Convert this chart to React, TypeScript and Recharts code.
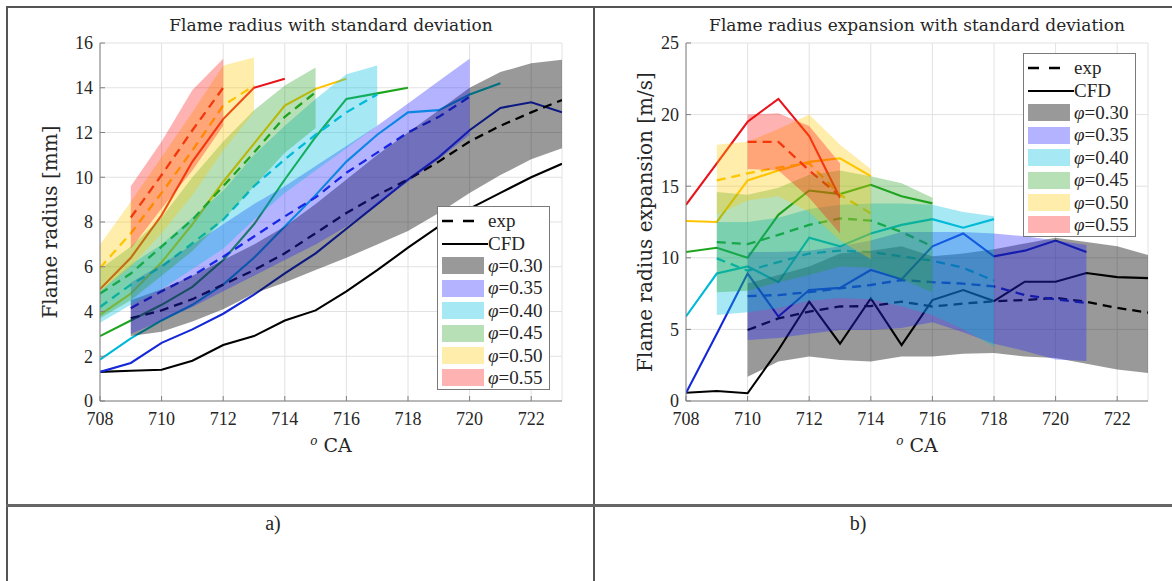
import React from "react";
import { ComposedChart, Line, Area, XAxis, YAxis, CartesianGrid } from "recharts";

// crank angle samples [deg CA]
const CA = [708, 709, 710, 711, 712, 713, 714, 715, 716, 717, 718, 719, 720, 721, 722, 723];
const CA_TICKS = [708, 710, 712, 714, 716, 718, 720, 722];
const RADIUS_TICKS = [0, 2, 4, 6, 8, 10, 12, 14, 16];
const SPEED_TICKS = [0, 5, 10, 15, 20, 25];

const PHI_LABELS = ["0.30", "0.35", "0.40", "0.45", "0.50", "0.55"];
const LINE_COLORS = ["#000000", "#1428d8", "#00b9d6", "#1ea51e", "#ffc400", "#e8141c"];
const BAND_COLORS = ["#000000", "#2424ff", "#00bedc", "#1e9e1e", "#ffc800", "#ff0000"];
const BAND_ALPHA = [0.4, 0.35, 0.35, 0.32, 0.33, 0.3];

// (a) flame radius [mm]
const radiusCfd030 = [1.3, 1.35, 1.4, 1.8, 2.5, 2.9, 3.6, 4.05, 4.9, 5.85, 6.85, 7.8, 8.6, 9.3, 10.0, 10.6];
const radiusExp030 = [null, 3.7, 4.05, 4.55, 5.2, 5.85, 6.6, 7.5, 8.4, 9.2, 9.9, 10.7, 11.6, 12.3, 12.9, 13.45];
const radiusLo030 = [null, 2.9, 3.1, 3.55, 4.1, 4.8, 5.3, 5.85, 6.4, 7.0, 7.6, 8.4, 9.3, 10.1, 10.8, 11.3];
const radiusHi030 = [null, 4.5, 5.0, 5.6, 6.3, 7.0, 7.8, 8.8, 9.9, 11.0, 12.0, 13.0, 14.0, 14.7, 15.1, 15.25];

const radiusCfd035 = [1.3, 1.7, 2.6, 3.2, 3.9, 4.75, 5.7, 6.6, 7.7, 8.8, 9.9, 10.9, 12.1, 13.1, 13.35, 12.9];
const radiusExp035 = [null, 4.15, 4.9, 5.6, 6.45, 7.35, 8.25, 9.1, 10.2, 11.1, 12.0, 12.7, 13.6];
const radiusLo035 = [null, 3.0, 3.6, 4.2, 4.9, 5.6, 6.3, 7.0, 7.8, 8.8, 9.8, 10.8, 11.9];
const radiusHi035 = [null, 5.3, 6.1, 7.0, 7.9, 8.8, 9.6, 10.5, 11.4, 12.3, 13.3, 14.3, 15.3];

const radiusCfd040 = [1.85, 2.8, 3.6, 4.3, 5.2, 6.4, 7.8, 9.2, 10.7, 11.9, 12.9, 13.0, 13.7, 14.2];
const radiusExp040 = [4.2, 5.2, 6.0, 7.05, 8.1, 9.6, 10.8, 11.9, 12.9, 13.7];
const radiusLo040 = [3.5, 4.3, 5.0, 5.9, 6.8, 8.1, 9.3, 10.3, 11.3, 12.3];
const radiusHi040 = [4.9, 6.1, 7.0, 8.2, 9.4, 11.0, 12.3, 13.5, 14.6, 15.0];

const radiusCfd045 = [2.9, 3.6, 4.3, 5.1, 6.3, 7.9, 9.9, 11.8, 13.5, 13.75, 14.0];
const radiusExp045 = [4.8, 5.7, 6.9, 8.1, 9.6, 11.1, 12.7, 13.8];
const radiusLo045 = [3.7, 4.5, 5.6, 6.7, 8.1, 9.6, 11.1, 12.2];
const radiusHi045 = [5.9, 6.9, 8.2, 10.0, 11.6, 13.0, 14.1, 14.9];

const radiusCfd050 = [3.85, 4.8, 6.2, 7.9, 9.8, 11.5, 13.2, 13.95, 14.4];
const radiusExp050 = [5.95, 7.5, 9.3, 11.2, 13.2, 14.1];
const radiusLo050 = [4.9, 6.0, 7.5, 9.2, 11.2, 12.9];
const radiusHi050 = [7.0, 8.9, 10.9, 12.9, 15.0, 15.35];

const radiusCfd055 = [5.0, 6.4, 8.3, 10.7, 12.6, 14.0, 14.4];
const radiusExp055 = [null, 8.2, 10.1, 12.1, 14.0];
const radiusLo055 = [null, 6.8, 8.6, 10.3, 12.3];
const radiusHi055 = [null, 9.6, 11.6, 13.9, 15.3];

// (b) flame radius expansion [m/s]
const speedCfd030 = [0.58, 0.7, 0.54, 3.56, 6.94, 4.0, 7.17, 3.9, 7.05, 7.75, 6.98, 8.33, 8.33, 8.94, 8.65, 8.58];
const speedExp030 = [null, null, 4.96, 5.77, 6.24, 6.6, 6.63, 6.94, 6.6, 6.8, 6.97, 7.05, 7.2, 6.93, 6.5, 6.17];
const speedLo030 = [null, null, 1.7, 2.75, 3.1, 2.86, 2.75, 3.1, 3.1, 3.3, 3.35, 3.1, 3.0, 2.6, 2.2, 1.95];
const speedHi030 = [null, null, 8.2, 8.8, 9.4, 10.3, 10.5, 10.8, 10.1, 10.3, 10.6, 11.0, 11.4, 11.1, 10.8, 10.2];

const speedCfd035 = [0.55, 4.7, 8.9, 5.9, 7.75, 7.9, 9.15, 8.5, 10.8, 11.7, 10.1, 10.5, 11.2, 10.4];
const speedExp035 = [null, null, 7.33, 7.4, 7.6, 7.87, 8.1, 8.45, 8.3, 8.2, 8.0, 7.4, 7.1, 6.85];
const speedLo035 = [null, null, 4.26, 4.4, 4.7, 4.95, 4.95, 5.1, 5.5, 4.8, 4.0, 3.5, 2.9, 2.8];
const speedHi035 = [null, null, 10.4, 10.4, 10.5, 10.8, 11.2, 11.8, 11.8, 11.8, 11.7, 11.5, 11.2, 10.9];

const speedCfd040 = [5.9, 8.9, 9.4, 8.3, 11.4, 10.8, 11.7, 12.3, 12.7, 12.1, 12.7];
const speedExp040 = [null, 9.96, 9.1, 9.7, 10.3, 10.5, 10.4, 10.1, 9.8, 9.3, 8.4];
const speedLo040 = [null, 6.0, 6.2, 6.5, 7.0, 7.2, 7.1, 6.6, 6.0, 5.0, 3.8];
const speedHi040 = [null, 12.5, 12.5, 12.8, 13.4, 13.7, 13.8, 13.8, 13.7, 13.2, 12.9];

const speedCfd045 = [10.4, 10.7, 10.0, 13.0, 14.7, 14.45, 15.1, 14.3, 13.8];
const speedExp045 = [null, 11.1, 10.95, 11.6, 12.3, 12.75, 12.6, 11.8, 10.8];
const speedLo045 = [null, 7.6, 7.7, 8.3, 8.8, 9.4, 9.3, 8.5, 7.6];
const speedHi045 = [null, 14.6, 14.4, 14.9, 15.8, 16.1, 15.7, 15.2, 14.2];

const speedCfd050 = [12.57, 12.5, 15.4, 16.1, 16.7, 16.95, 15.7];
const speedExp050 = [null, 15.4, 15.9, 16.3, 16.6, 14.4, 13.1];
const speedLo050 = [null, 13.0, 14.0, 14.3, 13.2, 11.2, 9.9];
const speedHi050 = [null, 17.9, 18.1, 19.0, 20.0, 17.9, 16.2];

const speedCfd055 = [13.7, 16.6, 19.5, 21.1, 18.5, 14.2];
const speedExp055 = [null, null, 18.1, 18.1, 16.1, 14.3];
const speedLo055 = [null, null, 16.2, 16.1, 14.2, 11.7];
const speedHi055 = [null, null, 20.0, 20.1, 19.2, 16.6];

type Vals = (number | null)[];
type Series = { cfd: Vals; exp: Vals; lo: Vals; hi: Vals };

const radiusSeries: Series[] = [
  { cfd: radiusCfd030, exp: radiusExp030, lo: radiusLo030, hi: radiusHi030 },
  { cfd: radiusCfd035, exp: radiusExp035, lo: radiusLo035, hi: radiusHi035 },
  { cfd: radiusCfd040, exp: radiusExp040, lo: radiusLo040, hi: radiusHi040 },
  { cfd: radiusCfd045, exp: radiusExp045, lo: radiusLo045, hi: radiusHi045 },
  { cfd: radiusCfd050, exp: radiusExp050, lo: radiusLo050, hi: radiusHi050 },
  { cfd: radiusCfd055, exp: radiusExp055, lo: radiusLo055, hi: radiusHi055 },
];

const speedSeries: Series[] = [
  { cfd: speedCfd030, exp: speedExp030, lo: speedLo030, hi: speedHi030 },
  { cfd: speedCfd035, exp: speedExp035, lo: speedLo035, hi: speedHi035 },
  { cfd: speedCfd040, exp: speedExp040, lo: speedLo040, hi: speedHi040 },
  { cfd: speedCfd045, exp: speedExp045, lo: speedLo045, hi: speedHi045 },
  { cfd: speedCfd050, exp: speedExp050, lo: speedLo050, hi: speedHi050 },
  { cfd: speedCfd055, exp: speedExp055, lo: speedLo055, hi: speedHi055 },
];

function buildRows(series: Series[]) {
  return CA.map((ca, i) => {
    const row: Record<string, unknown> = { ca };
    series.forEach((s, k) => {
      row[`cfd${k}`] = s.cfd[i] ?? null;
      row[`exp${k}`] = s.exp[i] ?? null;
      const lo = s.lo[i];
      const hi = s.hi[i];
      row[`band${k}`] = lo != null && hi != null ? [lo, hi] : null;
    });
    return row;
  });
}

const FONT = "'Liberation Serif', 'DejaVu Serif', serif";
const LABEL_FONT = "'DejaVu Serif', 'Liberation Serif', serif";
const INK = "#262626";
const BOX = "#808080";
const tickStyle = { fill: INK, fontSize: 18, fontFamily: FONT };

function Panel({ series, yTicks, yMax }: { series: Series[]; yTicks: number[]; yMax: number }) {
  const rows = buildRows(series);
  return (
    <ComposedChart width={600} height={470} data={rows} margin={{ top: 43, right: 38, bottom: 29, left: 40 }}>
      <CartesianGrid stroke="#e2e2e2" />
      <XAxis
        dataKey="ca"
        type="number"
        domain={[708, 723]}
        ticks={CA_TICKS}
        allowDataOverflow
        tick={tickStyle}
        tickLine={{ stroke: BOX }}
        tickSize={-5}
        tickMargin={16}
        axisLine={{ stroke: BOX }}
        height={40}
      />
      <XAxis
        xAxisId="top"
        orientation="top"
        dataKey="ca"
        type="number"
        domain={[708, 723]}
        ticks={CA_TICKS}
        tick={false}
        tickLine={false}
        axisLine={{ stroke: BOX }}
        height={0}
      />
      <YAxis
        type="number"
        domain={[0, yMax]}
        ticks={yTicks}
        allowDataOverflow
        tick={tickStyle}
        tickLine={{ stroke: BOX }}
        tickSize={-5}
        tickMargin={12}
        axisLine={{ stroke: BOX }}
        width={60}
      />
      <YAxis
        yAxisId="right"
        orientation="right"
        type="number"
        domain={[0, yMax]}
        ticks={yTicks}
        tick={false}
        tickLine={false}
        axisLine={{ stroke: BOX }}
        width={0}
      />
      {series.map((_, k) => (
        <Line
          key={`cfd${k}`}
          dataKey={`cfd${k}`}
          type="linear"
          stroke={LINE_COLORS[k]}
          strokeWidth={2.1}
          dot={false}
          isAnimationActive={false}
        />
      ))}
      {series.map((_, k) => (
        <Line
          key={`exp${k}`}
          dataKey={`exp${k}`}
          type="linear"
          stroke={LINE_COLORS[k]}
          strokeWidth={2.3}
          strokeDasharray="9 6"
          dot={false}
          isAnimationActive={false}
        />
      ))}
      {/* shaded std-dev bands sit above the lines, like the matlab figure */}
      {series.map((_, k) => (
        <Area
          key={`band${k}`}
          dataKey={`band${k}`}
          type="linear"
          stroke="none"
          fill={BAND_COLORS[k]}
          fillOpacity={BAND_ALPHA[k]}
          zIndex={450}
          activeDot={false}
          isAnimationActive={false}
        />
      ))}
    </ComposedChart>
  );
}

function LegendBox({ left, top }: { left: number; top: number }) {
  const row = { height: 22.4, display: "flex", alignItems: "center" } as const;
  return (
    <div
      style={{
        position: "absolute",
        left,
        top,
        width: 113,
        height: 184,
        boxSizing: "border-box",
        border: "1.5px solid #7a7a7a",
        background: "#fff",
        padding: "3px 0 0 4px",
        fontFamily: FONT,
        fontSize: 19,
        color: INK,
        lineHeight: "22px",
      }}
    >
      <div style={row}>
        <svg width={46} height={10}>
          <line x1={0} y1={5} x2={34} y2={5} stroke="#000" strokeWidth={2.5} strokeDasharray="11 10" />
        </svg>
        <span>exp</span>
      </div>
      <div style={row}>
        <svg width={46} height={10}>
          <line x1={0} y1={5} x2={46} y2={5} stroke="#000" strokeWidth={2.2} />
        </svg>
        <span>CFD</span>
      </div>
      {PHI_LABELS.map((phi, k) => (
        <div key={phi} style={row}>
          <svg width={46} height={17}>
            <rect x={0} y={0} width={42} height={17} fill={BAND_COLORS[k]} fillOpacity={BAND_ALPHA[k]} />
          </svg>
          <span>
            <i>φ</i>={phi}
          </span>
        </div>
      ))}
    </div>
  );
}

function Caption({
  cx,
  top,
  text,
  size = 19,
  family = LABEL_FONT,
}: {
  cx: number;
  top: number;
  text: React.ReactNode;
  size?: number;
  family?: string;
}) {
  return (
    <div
      style={{
        position: "absolute",
        left: cx - 300,
        top,
        width: 600,
        textAlign: "center",
        fontFamily: family,
        fontSize: size,
        lineHeight: "22px",
        color: INK,
        whiteSpace: "nowrap",
      }}
    >
      {text}
    </div>
  );
}

function YLabel({ cx, text }: { cx: number; text: string }) {
  return (
    <div
      style={{
        position: "absolute",
        left: cx - 200,
        top: 222 - 11,
        width: 400,
        height: 22,
        textAlign: "center",
        fontFamily: LABEL_FONT,
        fontSize: 20,
        lineHeight: "22px",
        color: INK,
        transform: "rotate(-90deg)",
        whiteSpace: "nowrap",
      }}
    >
      {text}
    </div>
  );
}

const caLabel = (
  <span>
    <i style={{ fontSize: 12, verticalAlign: 7 }}>o</i> CA
  </span>
);

export default function App() {
  return (
    <div style={{ position: "absolute", left: 0, top: 0, width: 1172, height: 581, background: "#fff", overflow: "hidden" }}>
      {/* table frame */}
      <div style={{ position: "absolute", left: 6, top: 6, width: 1172, height: 2, background: "#555" }} />
      <div style={{ position: "absolute", left: 6, top: 6, width: 2, height: 581, background: "#555" }} />
      <div style={{ position: "absolute", left: 593, top: 6, width: 2, height: 581, background: "#555" }} />
      <div style={{ position: "absolute", left: 6, top: 504, width: 1172, height: 3, background: "#666" }} />

      <div style={{ position: "absolute", left: 0, top: 0 }}>
        <Panel series={radiusSeries} yTicks={RADIUS_TICKS} yMax={16} />
      </div>
      <div style={{ position: "absolute", left: 586, top: 0 }}>
        <Panel series={speedSeries} yTicks={SPEED_TICKS} yMax={25} />
      </div>

      <Caption cx={331} top={14} size={17} text="Flame radius with standard deviation" />
      <Caption cx={917} top={14} size={17} text="Flame radius expansion with standard deviation" />
      <Caption cx={331} top={430} text={caLabel} />
      <Caption cx={917} top={430} text={caLabel} />
      <YLabel cx={50} text="Flame radius [mm]" />
      <YLabel cx={645} text="Flame radius expansion [m/s]" />

      <LegendBox left={437} top={206} />
      <LegendBox left={1023} top={53} />

      <Caption cx={273} top={512} text="a)" size={20} family={FONT} />
      <Caption cx={858} top={512} text="b)" size={20} family={FONT} />
    </div>
  );
}
